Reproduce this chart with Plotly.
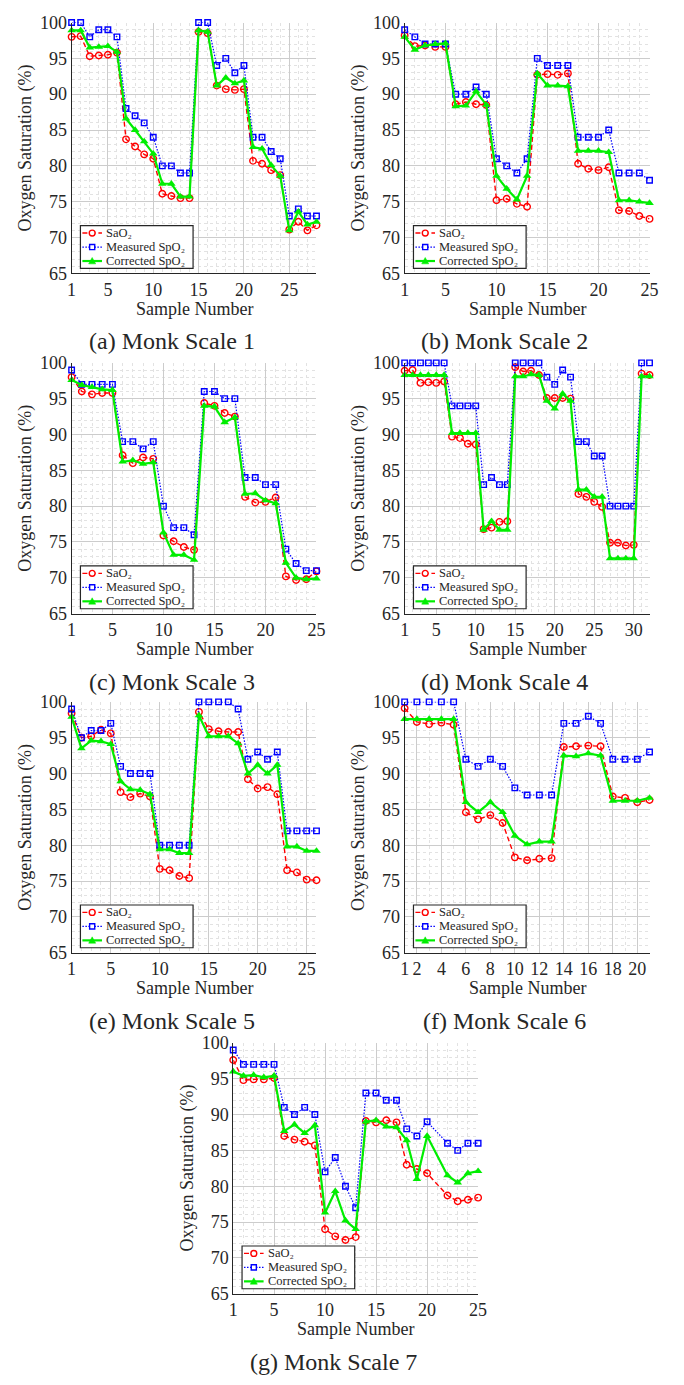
import plotly.graph_objects as go

W, H = 684, 1385

# ---------------- data ----------------
titles = ["(a) Monk Scale 1", "(b) Monk Scale 2", "(c) Monk Scale 3", "(d) Monk Scale 4",
          "(e) Monk Scale 5", "(f) Monk Scale 6", "(g) Monk Scale 7"]

x_a = list(range(1, 29))
sao2_a = [98.0, 98.1, 95.3, 95.4, 95.5, 95.8, 83.7, 82.7, 81.6, 81.0, 76.1, 75.8, 75.5, 75.5,
          98.7, 98.5, 91.2, 90.7, 90.6, 90.7, 80.7, 80.3, 79.4, 78.7, 71.1, 72.2, 71.0, 71.7]
spo2_a = [100, 100, 98, 99, 99, 98, 88, 87, 86, 84, 80, 80, 79, 79,
          100, 100, 94, 95, 93, 94, 84, 84, 82, 81, 73, 74, 73, 73]
corr_a = [98.9, 98.9, 96.5, 96.6, 96.7, 95.9, 86.6, 85.0, 83.4, 81.7, 77.5, 77.5, 75.7, 75.7,
          98.9, 98.7, 91.2, 92.3, 91.5, 91.9, 82.6, 82.4, 80.1, 78.6, 71.0, 73.6, 71.8, 72.2]

x_b = list(range(1, 26))
sao2_b = [98.2, 96.7, 96.8, 96.6, 96.6, 88.6, 88.9, 88.6, 88.5, 75.2, 75.4, 74.7, 74.3,
          92.7, 92.8, 92.7, 92.9, 80.3, 79.6, 79.4, 79.8, 73.8, 73.7, 73.0, 72.6]
spo2_b = [99, 98, 97, 97, 97, 90, 90, 91, 90, 81, 80, 79, 81,
          95, 94, 94, 94, 84, 84, 84, 85, 79, 79, 79, 78]
corr_b = [98.0, 96.2, 96.8, 97.0, 97.1, 88.3, 88.4, 90.4, 88.5, 78.6, 76.8, 75.3, 78.6,
          92.9, 91.2, 91.2, 91.1, 82.1, 82.1, 82.1, 81.9, 75.2, 75.2, 75.0, 74.8]

x_c = list(range(1, 26))
sao2_c = [98.0, 96.0, 95.6, 95.8, 95.8, 87.1, 86.0, 86.8, 86.6, 75.9, 75.1, 74.3, 73.9,
          94.4, 94.0, 93.0, 92.5, 81.3, 80.5, 80.6, 81.2, 70.2, 69.7, 69.8, 70.9]
spo2_c = [99, 97, 97, 97, 97, 89, 89, 88, 89, 80, 77, 77, 76,
          96, 96, 95, 95, 84, 84, 83, 83, 74, 72, 71, 71]
corr_c = [97.6, 96.9, 96.6, 96.3, 96.2, 86.2, 86.4, 85.9, 86.1, 76.3, 73.2, 73.2, 72.5,
          94.0, 93.9, 91.7, 92.4, 81.7, 81.8, 80.8, 80.4, 72.1, 70.0, 69.8, 69.9]

x_d = list(range(1, 33))
sao2_d = [98.9, 99.0, 97.2, 97.3, 97.2, 97.4, 89.7, 89.5, 88.7, 88.6, 76.8, 77.0, 77.8, 77.9,
          99.4, 98.8, 98.9, 98.3, 95.1, 95.1, 95.1, 95.0, 81.7, 81.3, 80.6, 79.9,
          74.9, 74.9, 74.5, 74.6, 98.5, 98.3]
spo2_d = [100, 100, 100, 100, 100, 100, 94, 94, 94, 94, 83, 84, 83, 83,
          100, 100, 100, 100, 98, 97, 99, 98, 89, 89, 87, 87,
          80, 80, 80, 80, 100, 100]
corr_d = [98.3, 98.3, 98.3, 98.3, 98.3, 98.3, 90.2, 90.2, 90.2, 90.2, 76.7, 77.9, 76.7, 76.7,
          98.1, 98.1, 98.4, 98.3, 94.7, 93.6, 95.7, 94.7, 82.3, 82.3, 81.3, 81.3,
          72.7, 72.7, 72.7, 72.7, 98.1, 98.1]

x_e = list(range(1, 27))
sao2_e = [98.4, 95.0, 95.2, 96.1, 95.6, 87.4, 86.7, 87.2, 86.8, 76.7, 76.5, 75.7, 75.4,
          98.6, 96.2, 95.9, 95.8, 95.8, 89.2, 87.9, 88.1, 87.1, 76.5, 76.2, 75.2, 75.1]
spo2_e = [99, 95, 96, 96, 97, 91, 90, 90, 90, 80, 80, 80, 80,
          100, 100, 100, 100, 99, 92, 93, 92, 93, 82, 82, 82, 82]
corr_e = [97.9, 93.5, 94.6, 94.5, 94.1, 88.9, 87.8, 87.7, 87.1, 79.4, 79.4, 78.9, 78.9,
          98.1, 95.2, 95.2, 95.2, 94.2, 90.0, 91.2, 90.0, 91.2, 79.8, 79.8, 79.2, 79.2]

x_f = list(range(1, 22))
sao2_f = [99.1, 97.2, 96.9, 97.1, 96.8, 84.6, 83.6, 84.2, 83.1, 78.3, 77.9, 78.1, 78.2,
          93.7, 93.8, 93.9, 93.8, 86.8, 86.6, 86.0, 86.3]
spo2_f = [100, 100, 100, 100, 100, 92, 91, 92, 91, 88, 87, 87, 87,
          97, 97, 98, 97, 92, 92, 92, 93]
corr_f = [97.6, 97.6, 97.6, 97.6, 97.6, 86.0, 84.6, 86.0, 84.6, 81.3, 80.1, 80.5, 80.5,
          92.5, 92.4, 92.8, 92.5, 86.2, 86.2, 86.2, 86.6]

x_g = [1, 2, 3, 4, 5, 6, 7, 8, 9, 10, 11, 12, 13, 14, 15, 16, 17, 18, 19, 20, 22, 23, 24, 25]
sao2_g = [97.6, 94.8, 94.9, 94.9, 95.1, 87.0, 86.5, 86.2, 85.7, 74.0, 73.0, 72.5, 72.9,
          89.1, 88.9, 89.2, 88.9, 83.0, 82.4, 81.8, 78.7, 77.9, 78.1, 78.4]
spo2_g = [99, 97, 97, 97, 97, 91, 90, 91, 90, 82, 84, 80, 77,
          93, 93, 92, 92, 88, 87, 89, 86, 85, 86, 86]
corr_g = [96.0, 95.4, 95.5, 95.2, 95.4, 87.7, 88.6, 87.4, 88.5, 76.3, 79.3, 75.2, 74.0,
          89.0, 89.2, 88.3, 88.2, 86.4, 81.0, 87.0, 81.5, 80.5, 81.8, 82.1]

x_ranges = [28, 25, 25, 32, 26, 21, 25]
x_ticks = [
    [1, 5, 10, 15, 20, 25],
    [1, 5, 10, 15, 20, 25],
    [1, 5, 10, 15, 20, 25],
    [1, 5, 10, 15, 20, 25, 30],
    [1, 5, 10, 15, 20, 25],
    [1, 2, 4, 6, 8, 10, 12, 14, 16, 18, 20],
    [1, 5, 10, 15, 20, 25],
]
y_ticks = [65, 70, 75, 80, 85, 90, 95, 100]

series_names = ["SaO₂", "Measured SpO₂", "Corrected SpO₂"]
x_label = "Sample Number"
y_label = "Oxygen Saturation (%)"

panels = [
    (x_a, sao2_a, spo2_a, corr_a),
    (x_b, sao2_b, spo2_b, corr_b),
    (x_c, sao2_c, spo2_c, corr_c),
    (x_d, sao2_d, spo2_d, corr_d),
    (x_e, sao2_e, spo2_e, corr_e),
    (x_f, sao2_f, spo2_f, corr_f),
    (x_g, sao2_g, spo2_g, corr_g),
]

# ---------------- layout geometry (pixels) ----------------
PW, PH = 250, 254.5
lefts = [68, 408, 68, 408, 68, 408, 233]
tops = [12.7, 12.7, 358, 358, 702, 702, 1048]

FONT = "Liberation Serif, Times New Roman, serif"
TXT = "#262626"


def px(x):
    return x / W


def py(y):
    return 1 - y / H


styles = [
    dict(color="#ff0000", dash="5px,3px", width=1.4, symbol="circle-open", msize=6.5, mline=1.4),
    dict(color="#0000ff", dash="1.5px,1.5px", width=1.2, symbol="square-open", msize=5.5, mline=1.4),
    dict(color="#00ee00", dash="solid", width=2.2, symbol="triangle-up", msize=7.5, mline=0),
]

fig = go.Figure()
annotations = []
shapes = []
layout = dict(
    width=W, height=H, margin=dict(l=0, r=0, t=0, b=0),
    paper_bgcolor="white", plot_bgcolor="white",
    font=dict(family=FONT, color=TXT, size=18),
    showlegend=False,
)

LEG_ROW = 14.2
LEG_FONT = 12.5


def add_legend(L, B):
    # legend box (decoration, paper coordinates)
    bx0, bx1 = L + 9, L + 124
    by1 = B - 5
    by0 = by1 - (2 * LEG_ROW + 15)
    shapes.append(dict(type="rect", xref="paper", yref="paper",
                       x0=px(bx0), x1=px(bx1), y0=py(by1), y1=py(by0),
                       line=dict(color="#262626", width=1.2), fillcolor="white", layer="above"))
    for j, (name, st) in enumerate(zip(series_names, styles)):
        yr = by0 + 7.5 + LEG_ROW * j
        shapes.append(dict(type="line", xref="paper", yref="paper",
                           x0=px(bx0 + 2), x1=px(bx0 + 22), y0=py(yr), y1=py(yr),
                           line=dict(color=st["color"], width=st["width"], dash=st["dash"]),
                           layer="above"))
        cx = bx0 + 12
        if st["symbol"] == "circle-open":
            r = 3
            shapes.append(dict(type="circle", xref="paper", yref="paper",
                               x0=px(cx - r), x1=px(cx + r), y0=py(yr + r), y1=py(yr - r),
                               line=dict(color=st["color"], width=1.4), fillcolor="white",
                               layer="above"))
        elif st["symbol"] == "square-open":
            r = 2.6
            shapes.append(dict(type="rect", xref="paper", yref="paper",
                               x0=px(cx - r), x1=px(cx + r), y0=py(yr + r), y1=py(yr - r),
                               line=dict(color=st["color"], width=1.4), fillcolor="white",
                               layer="above"))
        else:
            r = 3.6
            path = "M {:.5f},{:.5f} L {:.5f},{:.5f} L {:.5f},{:.5f} Z".format(
                px(cx), py(yr - r), px(cx - r), py(yr + r * 0.8), px(cx + r), py(yr + r * 0.8))
            shapes.append(dict(type="path", xref="paper", yref="paper", path=path,
                               line=dict(color=st["color"], width=0.5), fillcolor=st["color"],
                               layer="above"))
        annotations.append(dict(
            text=name, x=px(bx0 + 24), y=py(yr), xref="paper", yref="paper",
            showarrow=False, xanchor="left", yanchor="middle",
            font=dict(family=FONT, size=LEG_FONT, color=TXT)))


for i, (xs, s1, s2, s3) in enumerate(panels):
    k = "" if i == 0 else str(i + 1)
    xa, ya = "x" + k, "y" + k
    L, T = lefts[i], tops[i]
    B = T + PH
    for name, ys, st in zip(series_names, (s1, s2, s3), styles):
        fig.add_trace(go.Scatter(
            x=xs, y=ys, name=name, mode="lines+markers",
            xaxis=xa, yaxis=ya, cliponaxis=False,
            line=dict(color=st["color"], dash=st["dash"], width=st["width"]),
            marker=dict(symbol=st["symbol"], size=st["msize"], color=st["color"],
                        line=dict(color=st["color"], width=st["mline"])),
        ))
    layout["xaxis" + k] = dict(
        domain=[px(L), px(L + PW)], anchor=ya, range=[1, x_ranges[i]],
        tickmode="array", tickvals=x_ticks[i], ticks="",
        showgrid=True, gridcolor="#cccccc", gridwidth=1,
        minor=dict(dtick=1, tick0=0, showgrid=True, gridcolor="#e2e2e2", griddash="dot", gridwidth=1),
        showline=True, linecolor="#262626", linewidth=1, mirror=False,
        zeroline=False, tickfont=dict(family=FONT, size=18, color=TXT),
    )
    layout["yaxis" + k] = dict(
        domain=[py(B), py(T)], anchor=xa, range=[65, 100],
        tickmode="array", tickvals=y_ticks, ticks="",
        showgrid=True, gridcolor="#cccccc", gridwidth=1,
        minor=dict(dtick=1, tick0=0, showgrid=True, gridcolor="#e2e2e2", griddash="dot", gridwidth=1),
        showline=True, linecolor="#262626", linewidth=1, mirror=False,
        zeroline=False, tickfont=dict(family=FONT, size=18, color=TXT),
    )
    add_legend(L, B)
    annotations.append(dict(
        text=y_label, x=px(L - 47), y=py(T + PH / 2), xref="paper", yref="paper",
        textangle=-90, showarrow=False, xanchor="center", yanchor="middle",
        font=dict(family=FONT, size=18, color=TXT)))
    annotations.append(dict(
        text=x_label, x=px(L + PW / 2), y=py(B + 36), xref="paper", yref="paper",
        showarrow=False, xanchor="center", yanchor="middle",
        font=dict(family=FONT, size=18, color=TXT)))
    annotations.append(dict(
        text=titles[i], x=px(L + 102), y=py(B + 69), xref="paper", yref="paper",
        showarrow=False, xanchor="center", yanchor="middle",
        font=dict(family=FONT, size=24, color=TXT)))

layout["annotations"] = annotations
layout["shapes"] = shapes
fig.update_layout(**layout)
fig.write_html("out.html", post_script="document.body.style.margin='0px';")
